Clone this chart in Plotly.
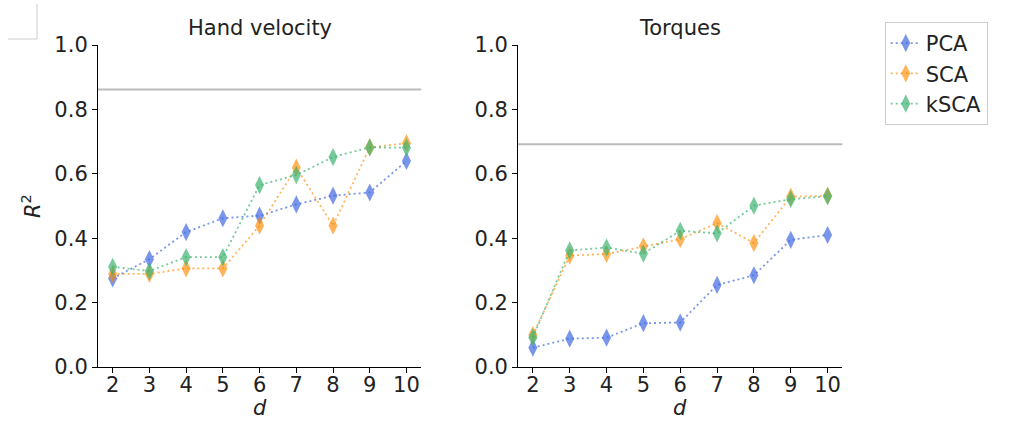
import plotly.graph_objects as go

d = [2, 3, 4, 5, 6, 7, 8, 9, 10]
methods = ["PCA", "SCA", "kSCA"]
colors = ["rgba(65,105,225,0.7)", "rgba(255,140,0,0.65)", "rgba(60,179,113,0.7)"]

hand_pca = [0.275, 0.335, 0.419, 0.462, 0.470, 0.505, 0.532, 0.542, 0.640]
hand_sca = [0.289, 0.289, 0.306, 0.306, 0.439, 0.619, 0.439, 0.682, 0.695]
hand_ksca = [0.311, 0.298, 0.341, 0.341, 0.565, 0.596, 0.652, 0.682, 0.681]

torq_pca = [0.060, 0.088, 0.091, 0.136, 0.138, 0.255, 0.285, 0.395, 0.410]
torq_sca = [0.099, 0.346, 0.351, 0.375, 0.397, 0.447, 0.385, 0.529, 0.532]
torq_ksca = [0.092, 0.362, 0.371, 0.352, 0.423, 0.415, 0.501, 0.521, 0.530]

ceilings = [0.862, 0.692]
titles = ["Hand velocity", "Torques"]
yticks = [0.0, 0.2, 0.4, 0.6, 0.8, 1.0]

FONT = "DejaVu Sans"
FS = 21
panels = [[hand_pca, hand_sca, hand_ksca], [torq_pca, torq_sca, torq_ksca]]

fig = go.Figure()
for p, series in enumerate(panels):
    xa = "x" if p == 0 else "x2"
    ya = "y" if p == 0 else "y2"
    for i, vals in enumerate(series):
        fig.add_trace(go.Scatter(
            x=d, y=vals, mode="lines+markers", name=methods[i],
            xaxis=xa, yaxis=ya, showlegend=(p == 0),
            line=dict(color=colors[i], width=1.8, dash="2px,3px"),
            marker=dict(symbol="diamond-tall", size=13, color=colors[i],
                        line=dict(width=0)),
            cliponaxis=False,
        ))

domains = [[0.097, 0.417], [0.513, 0.834]]
ydom = [1 - 367/421, 1 - 45/421]
axis_common = dict(showline=True, linecolor="black", linewidth=1, ticks="outside",
                   ticklen=5, tickcolor="black", showgrid=False, zeroline=False,
                   automargin=False,
                   tickfont=dict(family=FONT, size=FS, color="#222"))

layout = dict(
    width=1010, height=421, margin=dict(l=0, r=0, t=0, b=0),
    plot_bgcolor="white", paper_bgcolor="white",
    font=dict(family=FONT, size=FS, color="#222"),
    legend=dict(x=0.876, y=0.948, xanchor="left", yanchor="top",
                bordercolor="#cccccc", borderwidth=1, bgcolor="white",
                font=dict(family=FONT, size=FS, color="#222"),
                tracegroupgap=0, itemwidth=30),
    showlegend=True,
)
for p in range(2):
    sfx = "" if p == 0 else "2"
    layout["xaxis" + sfx] = dict(domain=domains[p], range=[1.6, 10.4], tickvals=d,
                                 anchor="y" + sfx, ticklabelstandoff=-6,
                                 **axis_common)
    layout["yaxis" + sfx] = dict(domain=ydom, range=[0, 1], tickvals=yticks,
                                 tickformat=".1f", anchor="x" + sfx,
                                 **axis_common)
layout["yaxis"]["title"] = dict(text="<i>R</i><sup>2</sup>", standoff=8,
                                font=dict(family=FONT, size=FS))
fig.update_layout(**layout)

for p in range(2):
    sfx = "" if p == 0 else "2"
    fig.add_shape(type="line", xref="x" + sfx + " domain", yref="y" + sfx,
                  x0=0, x1=1, y0=ceilings[p], y1=ceilings[p],
                  line=dict(color="#bbbbbb", width=2))
    cx = (domains[p][0] + domains[p][1]) / 2
    fig.add_annotation(text=titles[p], xref="paper", yref="paper",
                       x=cx, y=1 - 42/421,
                       xanchor="center", yanchor="bottom", showarrow=False,
                       font=dict(family=FONT, size=FS, color="#222"))
    fig.add_annotation(text="<i>d</i>", xref="paper", yref="paper",
                       x=cx, y=0, borderpad=0,
                       xanchor="center", yanchor="bottom", showarrow=False,
                       font=dict(family=FONT, size=FS, color="#222"))

# stray corner mark at the top-left of the image
fig.add_shape(type="line", xref="paper", yref="paper", x0=37/1010, x1=37/1010,
              y0=1-4/421, y1=1-39/421, line=dict(color="#cccccc", width=1))
fig.add_shape(type="line", xref="paper", yref="paper", x0=8/1010, x1=37/1010,
              y0=1-39/421, y1=1-39/421, line=dict(color="#cccccc", width=1))

fig.write_html("out.html")
